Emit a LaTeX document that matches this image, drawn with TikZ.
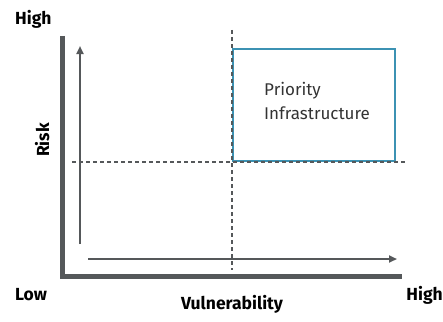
\documentclass[tikz,border=0pt]{standalone}
\usepackage{fontspec}
\setmainfont{Fira Sans}
\usepackage{tikz}
\usetikzlibrary{arrows.meta}
\definecolor{axisgray}{HTML}{55585A}
\definecolor{boxblue}{HTML}{3C92B3}
\begin{document}
\begin{tikzpicture}[x=1pt,y=-1pt,
  lbl/.style={font=\bfseries\fontsize{17.5}{20}\selectfont,inner sep=0pt},
  guide/.style={axisgray,line width=1.8pt,dash pattern=on 4pt off 3pt}]
          \useasboundingbox (0,0) rectangle (443,321);
          \coordinate (O) at (62.5,276.5);
          \coordinate (Ytop) at (62.5,36);
          \coordinate (Xend) at (402,276.5);
          \coordinate (Ua) at (80,244);
          \coordinate (Ub) at (80,46);
          \coordinate (Ra) at (88,259);
          \coordinate (Rb) at (397,259);
          \coordinate (Vt) at (232,30);
          \coordinate (Vb) at (232,270);
          \coordinate (Hl) at (72,162);
          \coordinate (Hr) at (406,162);
          \node[lbl,anchor=base west] (HighY) at (15,25) {High};
          \node[lbl,anchor=base west] (Low) at (15,300) {Low};
          \node[lbl,anchor=base east] (HighX) at (443,300) {High};
          \node[lbl,anchor=base] (Vul) at (232,309) {Vulnerability};
          \node[lbl,rotate=90,anchor=base] (Risk) at (49,140) {Risk};
          \draw[boxblue,line width=1.6pt] (233,49) rectangle (395,161);
          \node[anchor=north west,align=left,font=\fontsize{17}{24}\selectfont,text=black!80,inner sep=0pt] (Prio) at (264,82) {Priority\\Infrastructure};
          \draw[axisgray,line width=5pt] (Ytop) -- (O) -- (Xend);
          \draw[axisgray,line width=2pt,-{Triangle[length=8pt,width=7pt]}] (Ua) to (Ub);
          \draw[axisgray,line width=2pt,-{Triangle[length=8pt,width=7pt]}] (Ra) to (Rb);
          \draw[guide] (Vt) to (Vb);
          \draw[guide] (Hl) to (Hr);
        \end{tikzpicture}
\end{document}
